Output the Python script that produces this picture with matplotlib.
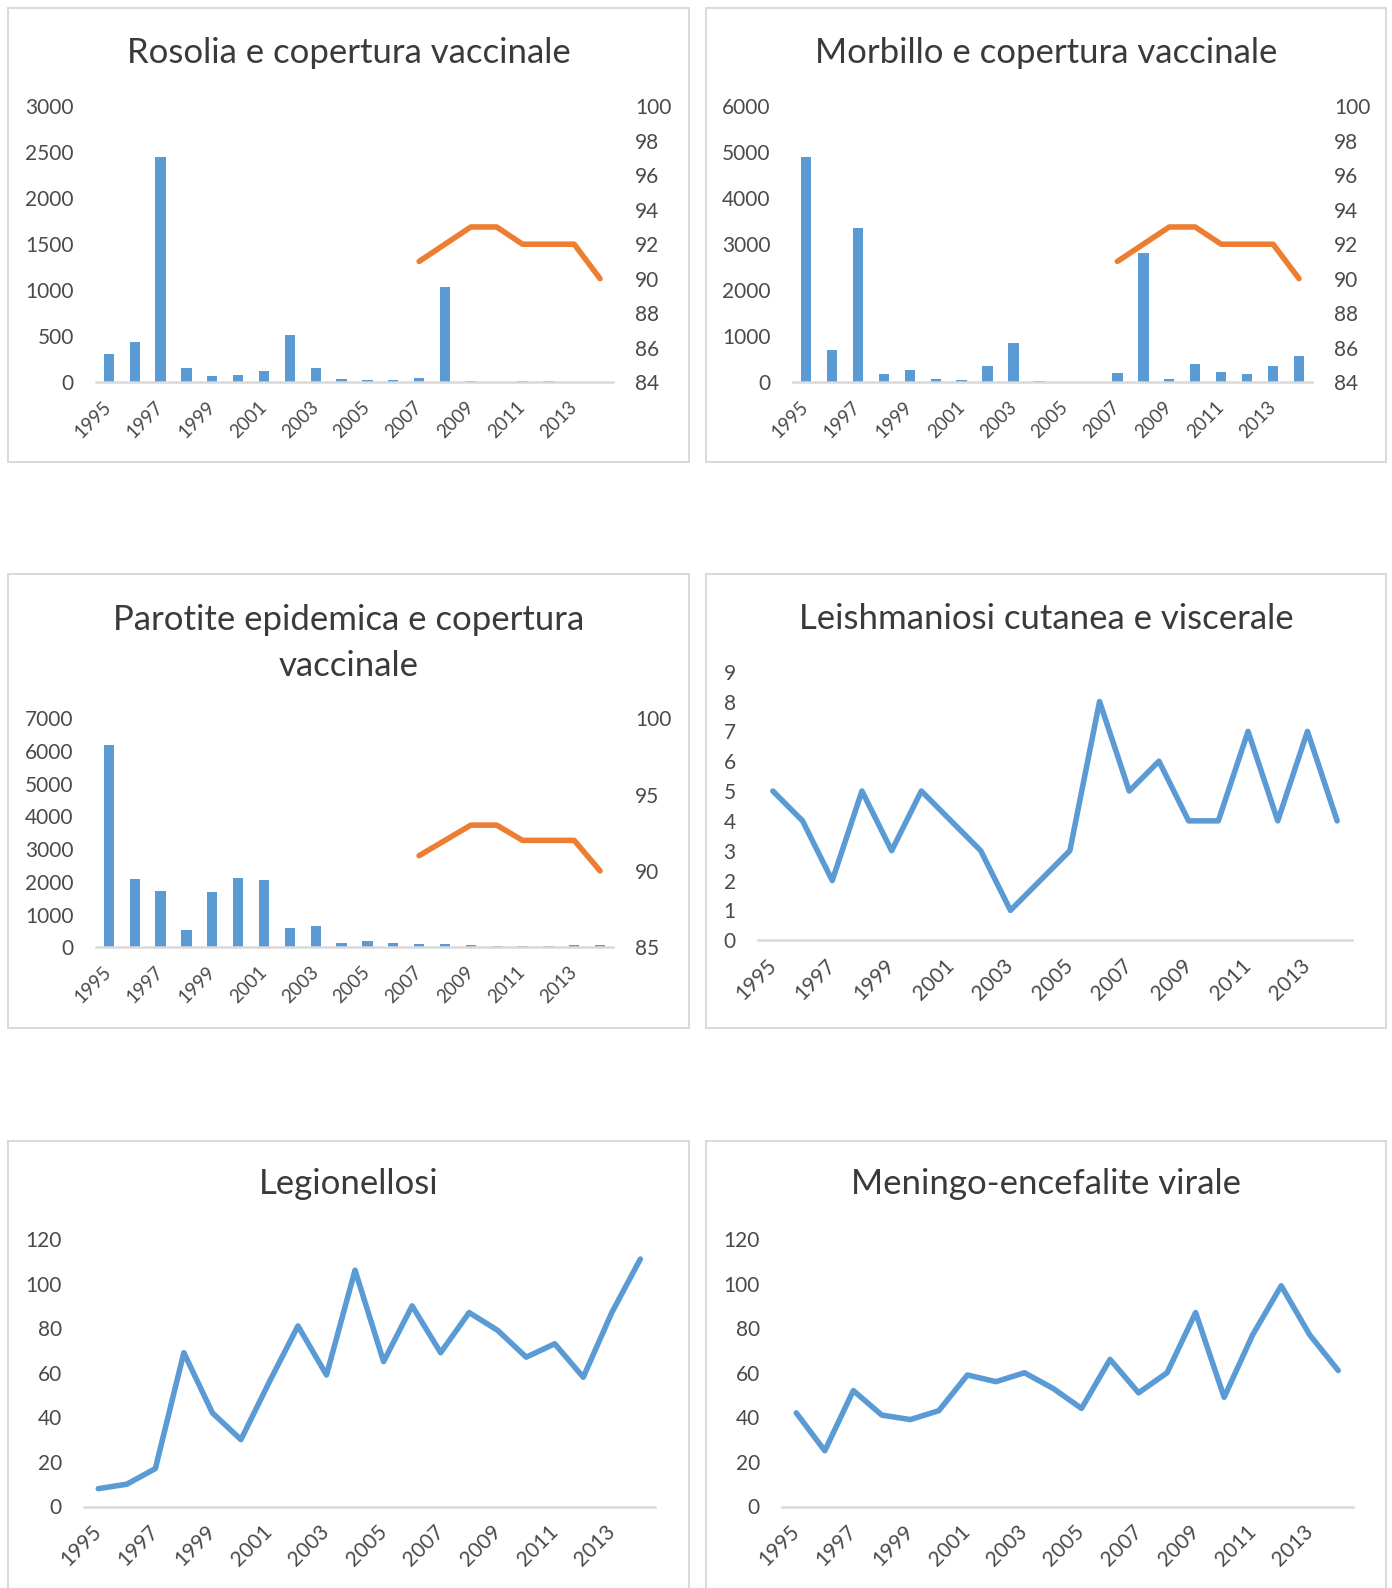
import numpy as np
import matplotlib.pyplot as plt
from matplotlib.patches import Rectangle

# data (1995-2014)
years = list(range(1995, 2015))
year_labels = [str(y) for y in years[::2]]

rosolia = [305, 440, 2450, 150, 68, 80, 118, 516, 155, 30, 22, 19, 47, 1030, 12, 0, 12, 12, 0, 0]
morbillo = [4900, 700, 3350, 170, 270, 58, 51, 356, 857, 29, 0, 0, 203, 2800, 58, 385, 225, 181, 356, 567]
parotite = [6170, 2090, 1710, 520, 1690, 2110, 2040, 580, 640, 143, 194, 119, 110, 90, 71, 30, 30, 30, 61, 61]
copertura = [np.nan] * 12 + [91, 92, 93, 93, 92, 92, 92, 90]
leishmaniosi = [5, 4, 2, 5, 3, 5, 4, 3, 1, 2, 3, 8, 5, 6, 4, 4, 7, 4, 7, 4]
legionellosi = [8, 10, 17, 69, 42, 30, 56, 81, 59, 106, 65, 90, 69, 87, 79, 67, 73, 58, 87, 111]
meningo = [42, 25, 52, 41, 39, 43, 59, 56, 60, 53, 44, 66, 51, 60, 87, 49, 77, 99, 77, 61]

BLUE = '#5B9BD5'
ORANGE = '#ED7D31'
TEXT = '#4a4a4a'
LINE = '#D9D9D9'
LW = 4.0

plt.rcParams['font.family'] = ['Lato', 'DejaVu Sans']

W, H = 1392, 1588
fig = plt.figure(figsize=(W / 100, H / 100), dpi=100)
fig.patch.set_facecolor('white')


def px_axes(x0, y0, x1, y1):
    return fig.add_axes([x0 / W, 1 - y1 / H, (x1 - x0) / W, (y1 - y0) / H])


def panel_box(x0, y0, x1, y1):
    fig.patches.append(Rectangle((x0 / W, 1 - y1 / H), (x1 - x0) / W, (y1 - y0) / H,
                                 transform=fig.transFigure, fill=False,
                                 edgecolor=LINE, lw=1.4))


def title(x, y, s, **kw):
    fig.text(x / W, 1 - y / H, s, ha='center', va='center', fontsize=25,
             color='#3a3a3a', **kw)


def style(ax, ymax, step, xsize=13.5):
    ax.set_xlim(-0.5, 19.5)
    ax.set_ylim(0, ymax)
    ax.set_yticks(np.arange(0, ymax + step / 2, step))
    for s in ['top', 'left', 'right']:
        ax.spines[s].set_visible(False)
    ax.spines['bottom'].set_color(LINE)
    ax.spines['bottom'].set_linewidth(1.8)
    ax.set_xticks(range(0, 20, 2))
    ax.set_xticklabels(year_labels, rotation=45, ha='right', va='center',
                       rotation_mode='anchor', fontsize=xsize, color=TEXT)
    ax.tick_params(axis='x', length=0, pad=16)
    ax.tick_params(axis='y', length=0, pad=16, labelsize=15, labelcolor=TEXT)
    ax.patch.set_alpha(0)


def right_axis(ax, lo, hi, step):
    ax2 = ax.twinx()
    ax2.plot(range(20), copertura, color=ORANGE, lw=LW,
             solid_joinstyle='round', solid_capstyle='round')
    ax2.set_ylim(lo, hi)
    ax2.set_yticks(np.arange(lo, hi + step / 2, step))
    for s in ax2.spines.values():
        s.set_visible(False)
    ax2.tick_params(axis='y', length=0, pad=16, labelsize=15, labelcolor=TEXT)
    return ax2


def line(ax, values):
    ax.plot(range(20), values, color=BLUE, lw=LW,
            solid_joinstyle='round', solid_capstyle='round')


# Rosolia
panel_box(8, 8, 689, 462)
title(348.5, 53, 'Rosolia e copertura vaccinale')
ax = px_axes(96, 106.4, 613, 382)
ax.bar(range(20), rosolia, width=0.4, color=BLUE)
style(ax, 3000, 500)
right_axis(ax, 84, 100, 2)

# Morbillo
panel_box(706, 8, 1386, 462)
title(1046, 53, 'Morbillo e copertura vaccinale')
ax = px_axes(793, 106.4, 1312, 382)
ax.bar(range(20), morbillo, width=0.4, color=BLUE)
style(ax, 6000, 1000)
right_axis(ax, 84, 100, 2)

# Parotite
panel_box(8, 574, 689, 1028)
title(348.5, 643, 'Parotite epidemica e copertura\nvaccinale', linespacing=1.55)
ax = px_axes(96, 718.3, 613, 947.2)
ax.bar(range(20), parotite, width=0.4, color=BLUE)
style(ax, 7000, 1000)
right_axis(ax, 85, 100, 5)

# Leishmaniosi
panel_box(706, 574, 1386, 1028)
title(1046, 619, 'Leishmaniosi cutanea e viscerale')
ax = px_axes(758, 671.7, 1352, 940.2)
line(ax, leishmaniosi)
style(ax, 9, 1, xsize=15)

# Legionellosi
panel_box(8, 1141, 689, 1620)
title(348.5, 1184, 'Legionellosi')
ax = px_axes(84, 1239, 654.6, 1506.5)
line(ax, legionellosi)
style(ax, 120, 20, xsize=15)

# Meningo-encefalite
panel_box(706, 1141, 1386, 1620)
title(1046, 1184, 'Meningo-encefalite virale')
ax = px_axes(782, 1239, 1352.5, 1506.5)
line(ax, meningo)
style(ax, 120, 20, xsize=15)

fig.savefig('out.png', dpi=100)
